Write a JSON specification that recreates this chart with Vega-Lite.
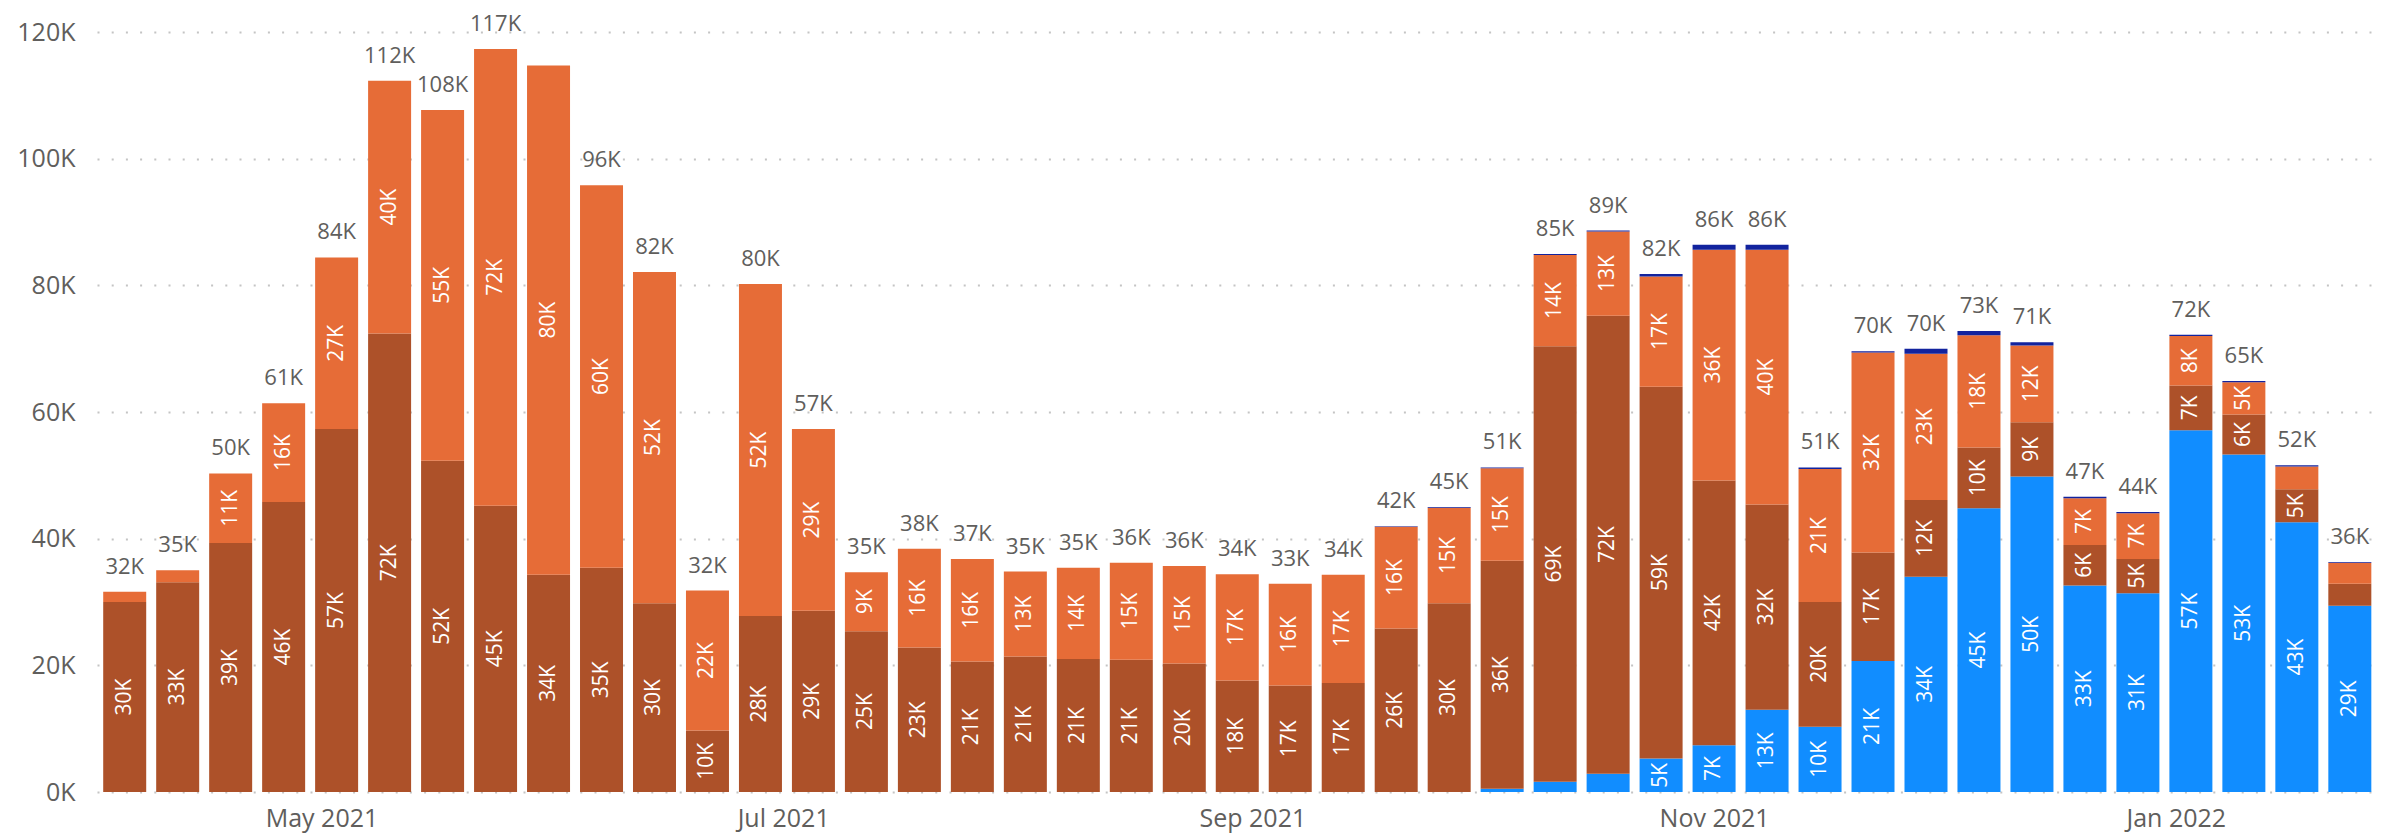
{
  "$schema": "https://vega.github.io/schema/vega-lite/v6.json",
  "width": 2284,
  "height": 760,
  "autosize": {"type": "none"},
  "padding": {"left": 97, "top": 32, "right": 0, "bottom": 44},
  "background": "white",
  "config": {"view": {"stroke": null}, "font": "Open Sans"},
  "data": {
    "values": [
      {"date": "2021-04-05", "series": "S2", "value": 30000},
      {"date": "2021-04-05", "series": "S3", "value": 1600},
      {"date": "2021-04-12", "series": "S2", "value": 33100},
      {"date": "2021-04-12", "series": "S3", "value": 1900},
      {"date": "2021-04-19", "series": "S2", "value": 39300},
      {"date": "2021-04-19", "series": "S3", "value": 11000},
      {"date": "2021-04-26", "series": "S2", "value": 45800},
      {"date": "2021-04-26", "series": "S3", "value": 15600},
      {"date": "2021-05-03", "series": "S2", "value": 57300},
      {"date": "2021-05-03", "series": "S3", "value": 27100},
      {"date": "2021-05-10", "series": "S2", "value": 72400},
      {"date": "2021-05-10", "series": "S3", "value": 39900},
      {"date": "2021-05-17", "series": "S2", "value": 52300},
      {"date": "2021-05-17", "series": "S3", "value": 55400},
      {"date": "2021-05-24", "series": "S2", "value": 45200},
      {"date": "2021-05-24", "series": "S3", "value": 72100},
      {"date": "2021-05-31", "series": "S2", "value": 34300},
      {"date": "2021-05-31", "series": "S3", "value": 80400},
      {"date": "2021-06-07", "series": "S2", "value": 35400},
      {"date": "2021-06-07", "series": "S3", "value": 60400},
      {"date": "2021-06-14", "series": "S2", "value": 29800},
      {"date": "2021-06-14", "series": "S3", "value": 52300},
      {"date": "2021-06-21", "series": "S2", "value": 9700},
      {"date": "2021-06-21", "series": "S3", "value": 22100},
      {"date": "2021-06-28", "series": "S2", "value": 27800},
      {"date": "2021-06-28", "series": "S3", "value": 52400},
      {"date": "2021-07-05", "series": "S2", "value": 28600},
      {"date": "2021-07-05", "series": "S3", "value": 28700},
      {"date": "2021-07-12", "series": "S2", "value": 25400},
      {"date": "2021-07-12", "series": "S3", "value": 9300},
      {"date": "2021-07-19", "series": "S2", "value": 22800},
      {"date": "2021-07-19", "series": "S3", "value": 15600},
      {"date": "2021-07-26", "series": "S2", "value": 20600},
      {"date": "2021-07-26", "series": "S3", "value": 16200},
      {"date": "2021-08-02", "series": "S2", "value": 21400},
      {"date": "2021-08-02", "series": "S3", "value": 13400},
      {"date": "2021-08-09", "series": "S2", "value": 21000},
      {"date": "2021-08-09", "series": "S3", "value": 14400},
      {"date": "2021-08-16", "series": "S2", "value": 20900},
      {"date": "2021-08-16", "series": "S3", "value": 15300},
      {"date": "2021-08-23", "series": "S2", "value": 20300},
      {"date": "2021-08-23", "series": "S3", "value": 15400},
      {"date": "2021-08-30", "series": "S2", "value": 17600},
      {"date": "2021-08-30", "series": "S3", "value": 16800},
      {"date": "2021-09-06", "series": "S2", "value": 16800},
      {"date": "2021-09-06", "series": "S3", "value": 16100},
      {"date": "2021-09-13", "series": "S2", "value": 17200},
      {"date": "2021-09-13", "series": "S3", "value": 17100},
      {"date": "2021-09-20", "series": "S2", "value": 25800},
      {"date": "2021-09-20", "series": "S3", "value": 16100},
      {"date": "2021-09-20", "series": "S4", "value": 50},
      {"date": "2021-09-27", "series": "S2", "value": 29800},
      {"date": "2021-09-27", "series": "S3", "value": 15100},
      {"date": "2021-09-27", "series": "S4", "value": 100},
      {"date": "2021-10-04", "series": "S1", "value": 500},
      {"date": "2021-10-04", "series": "S2", "value": 36000},
      {"date": "2021-10-04", "series": "S3", "value": 14600},
      {"date": "2021-10-04", "series": "S4", "value": 150},
      {"date": "2021-10-11", "series": "S1", "value": 1600},
      {"date": "2021-10-11", "series": "S2", "value": 68800},
      {"date": "2021-10-11", "series": "S3", "value": 14400},
      {"date": "2021-10-11", "series": "S4", "value": 150},
      {"date": "2021-10-18", "series": "S1", "value": 2900},
      {"date": "2021-10-18", "series": "S2", "value": 72300},
      {"date": "2021-10-18", "series": "S3", "value": 13300},
      {"date": "2021-10-18", "series": "S4", "value": 150},
      {"date": "2021-10-25", "series": "S1", "value": 5300},
      {"date": "2021-10-25", "series": "S2", "value": 58700},
      {"date": "2021-10-25", "series": "S3", "value": 17400},
      {"date": "2021-10-25", "series": "S4", "value": 400},
      {"date": "2021-11-01", "series": "S1", "value": 7400},
      {"date": "2021-11-01", "series": "S2", "value": 41800},
      {"date": "2021-11-01", "series": "S3", "value": 36400},
      {"date": "2021-11-01", "series": "S4", "value": 800},
      {"date": "2021-11-08", "series": "S1", "value": 13000},
      {"date": "2021-11-08", "series": "S2", "value": 32400},
      {"date": "2021-11-08", "series": "S3", "value": 40200},
      {"date": "2021-11-08", "series": "S4", "value": 800},
      {"date": "2021-11-15", "series": "S1", "value": 10300},
      {"date": "2021-11-15", "series": "S2", "value": 19700},
      {"date": "2021-11-15", "series": "S3", "value": 21000},
      {"date": "2021-11-15", "series": "S4", "value": 250},
      {"date": "2021-11-22", "series": "S1", "value": 20700},
      {"date": "2021-11-22", "series": "S2", "value": 17100},
      {"date": "2021-11-22", "series": "S3", "value": 31600},
      {"date": "2021-11-22", "series": "S4", "value": 200},
      {"date": "2021-11-29", "series": "S1", "value": 34000},
      {"date": "2021-11-29", "series": "S2", "value": 12100},
      {"date": "2021-11-29", "series": "S3", "value": 23100},
      {"date": "2021-11-29", "series": "S4", "value": 800},
      {"date": "2021-12-06", "series": "S1", "value": 44800},
      {"date": "2021-12-06", "series": "S2", "value": 9600},
      {"date": "2021-12-06", "series": "S3", "value": 17700},
      {"date": "2021-12-06", "series": "S4", "value": 700},
      {"date": "2021-12-13", "series": "S1", "value": 49800},
      {"date": "2021-12-13", "series": "S2", "value": 8600},
      {"date": "2021-12-13", "series": "S3", "value": 12100},
      {"date": "2021-12-13", "series": "S4", "value": 500},
      {"date": "2021-12-20", "series": "S1", "value": 32600},
      {"date": "2021-12-20", "series": "S2", "value": 6400},
      {"date": "2021-12-20", "series": "S3", "value": 7400},
      {"date": "2021-12-20", "series": "S4", "value": 200},
      {"date": "2021-12-27", "series": "S1", "value": 31400},
      {"date": "2021-12-27", "series": "S2", "value": 5400},
      {"date": "2021-12-27", "series": "S3", "value": 7200},
      {"date": "2021-12-27", "series": "S4", "value": 200},
      {"date": "2022-01-03", "series": "S1", "value": 57100},
      {"date": "2022-01-03", "series": "S2", "value": 7100},
      {"date": "2022-01-03", "series": "S3", "value": 7800},
      {"date": "2022-01-03", "series": "S4", "value": 200},
      {"date": "2022-01-10", "series": "S1", "value": 53300},
      {"date": "2022-01-10", "series": "S2", "value": 6300},
      {"date": "2022-01-10", "series": "S3", "value": 5100},
      {"date": "2022-01-10", "series": "S4", "value": 200},
      {"date": "2022-01-17", "series": "S1", "value": 42600},
      {"date": "2022-01-17", "series": "S2", "value": 5200},
      {"date": "2022-01-17", "series": "S3", "value": 3600},
      {"date": "2022-01-17", "series": "S4", "value": 200},
      {"date": "2022-01-24", "series": "S1", "value": 29400},
      {"date": "2022-01-24", "series": "S2", "value": 3500},
      {"date": "2022-01-24", "series": "S3", "value": 3300},
      {"date": "2022-01-24", "series": "S4", "value": 100}
    ]
  },
  "encoding": {
    "x": {
      "field": "date",
      "type": "temporal",
      "scale": {
        "type": "utc",
        "domain": [
          {"year": 2021, "month": 4, "date": 2, "utc": true},
          {"year": 2022, "month": 1, "date": 27, "hours": 11, "utc": true}
        ]
      },
      "axis": {
        "values": [
          {"year": 2021, "month": 5, "date": 1, "utc": true},
          {"year": 2021, "month": 7, "date": 1, "utc": true},
          {"year": 2021, "month": 9, "date": 1, "utc": true},
          {"year": 2021, "month": 11, "date": 1, "utc": true},
          {"year": 2022, "month": 1, "date": 1, "utc": true}
        ],
        "format": "%b %Y",
        "title": null,
        "grid": false,
        "ticks": false,
        "domain": false,
        "labelFontSize": 25,
        "labelColor": "#605E5C",
        "labelPadding": 14,
        "labelFlush": false
      }
    }
  },
  "layer": [
    {
      "transform": [
        {"stack": "value", "groupby": ["date"], "sort": [{"field": "series", "order": "ascending"}], "as": ["v0", "v1"]}
      ],
      "mark": {"type": "bar", "width": 43},
      "encoding": {
        "y": {
          "field": "v0",
          "type": "quantitative",
          "scale": {"domain": [0, 120000], "nice": false},
          "axis": {
            "values": [0, 20000, 40000, 60000, 80000, 100000, 120000],
            "labelExpr": "(datum.value / 1000) + 'K'",
            "title": null,
            "ticks": false,
            "domain": false,
            "grid": true,
            "gridDash": [2, 12.2],
            "gridColor": "#C4C4C4",
            "gridWidth": 2,
            "labelPadding": 22,
            "labelFontSize": 25,
            "labelColor": "#605E5C"
          }
        },
        "y2": {"field": "v1"},
        "color": {
          "field": "series",
          "type": "nominal",
          "scale": {"domain": ["S1", "S2", "S3", "S4"], "range": ["#118DFF", "#AD5129", "#E66C37", "#12239E"]},
          "legend": null
        }
      }
    },
    {
      "transform": [
        {"stack": "value", "groupby": ["date"], "sort": [{"field": "series", "order": "ascending"}], "as": ["v0", "v1"]},
        {"filter": "datum.value >= 4500"},
        {"calculate": "(datum.v0 + datum.v1) / 2", "as": "mid"},
        {"calculate": "round(datum.value / 1000) + 'K'", "as": "lbl"}
      ],
      "mark": {"type": "text", "angle": 270, "color": "white", "fontSize": 21, "align": "center", "baseline": "middle"},
      "encoding": {
        "y": {"field": "mid", "type": "quantitative", "title": null},
        "text": {"field": "lbl"}
      }
    },
    {
      "transform": [
        {"aggregate": [{"op": "sum", "field": "value", "as": "total"}], "groupby": ["date"]},
        {"filter": {"not": {"field": "date", "equal": {"year": 2021, "month": 5, "date": 31, "utc": true}}}},
        {"calculate": "round(datum.total / 1000) + 'K'", "as": "lbl"}
      ],
      "mark": {"type": "text", "baseline": "alphabetic", "dy": -18, "fontSize": 22, "color": "#605E5C"},
      "encoding": {
        "y": {"field": "total", "type": "quantitative", "title": null},
        "text": {"field": "lbl"}
      }
    }
  ]
}
